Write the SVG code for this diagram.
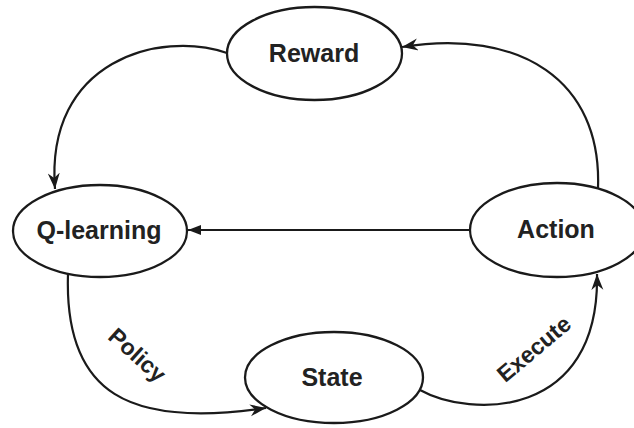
<svg xmlns="http://www.w3.org/2000/svg" width="634" height="428" viewBox="0 0 634 428">
<style>
.node ellipse{fill:#fff;stroke:#1a1a1a;stroke-width:2.3}
.node text{font-family:"Liberation Sans",Arial,sans-serif;font-weight:bold;font-size:25px;fill:#222;text-anchor:middle}
.edge{fill:none;stroke:#1a1a1a;stroke-width:2.2}
.lbl{font-family:"Liberation Sans",Arial,sans-serif;font-weight:bold;font-size:23px;fill:#222;text-anchor:middle}
</style>
<defs>
<marker id="stealth" markerUnits="userSpaceOnUse" markerWidth="17" markerHeight="13" refX="16" refY="6" orient="auto">
<path d="M0,0 L16,6 L0,12 L5,6 Z" fill="#1a1a1a"/>
</marker>
<marker id="tri" markerUnits="userSpaceOnUse" markerWidth="14" markerHeight="12" refX="13" refY="5" orient="auto">
<path d="M0,0 L13,5 L0,10 Z" fill="#1a1a1a"/>
</marker>
</defs>
<rect width="634" height="428" fill="#fff"/>
<g id="connectors">
<path class="edge" d="M227,53 C160,30 45,60 55,189" marker-end="url(#stealth)"/>
<path class="edge" d="M598,188 C602,80 520,28 402,47" marker-end="url(#stealth)"/>
<path class="edge" d="M470,230 L188,230" marker-end="url(#tri)"/>
<path class="edge" d="M68,274 C64,395 130,428 266,408" marker-end="url(#stealth)"/>
<path class="edge" d="M420,390 C470,418 600,420 597,274" marker-end="url(#stealth)"/>
<text class="lbl" transform="translate(132,361) rotate(42)">Policy</text>
<text class="lbl" transform="translate(539,355) rotate(-40)">Execute</text>
</g>
<g id="reward" class="node"><ellipse cx="314.5" cy="53.5" rx="87.5" ry="46.5"/><text x="314" y="62">Reward</text></g>
<g id="qlearning" class="node"><ellipse cx="100" cy="231" rx="87" ry="46"/><text x="99" y="239">Q-learning</text></g>
<g id="action" class="node"><ellipse cx="557" cy="230" rx="87" ry="47"/><text x="556" y="238">Action</text></g>
<g id="state" class="node"><ellipse cx="334" cy="377.5" rx="89" ry="45.5"/><text x="332" y="386">State</text></g>
</svg>
